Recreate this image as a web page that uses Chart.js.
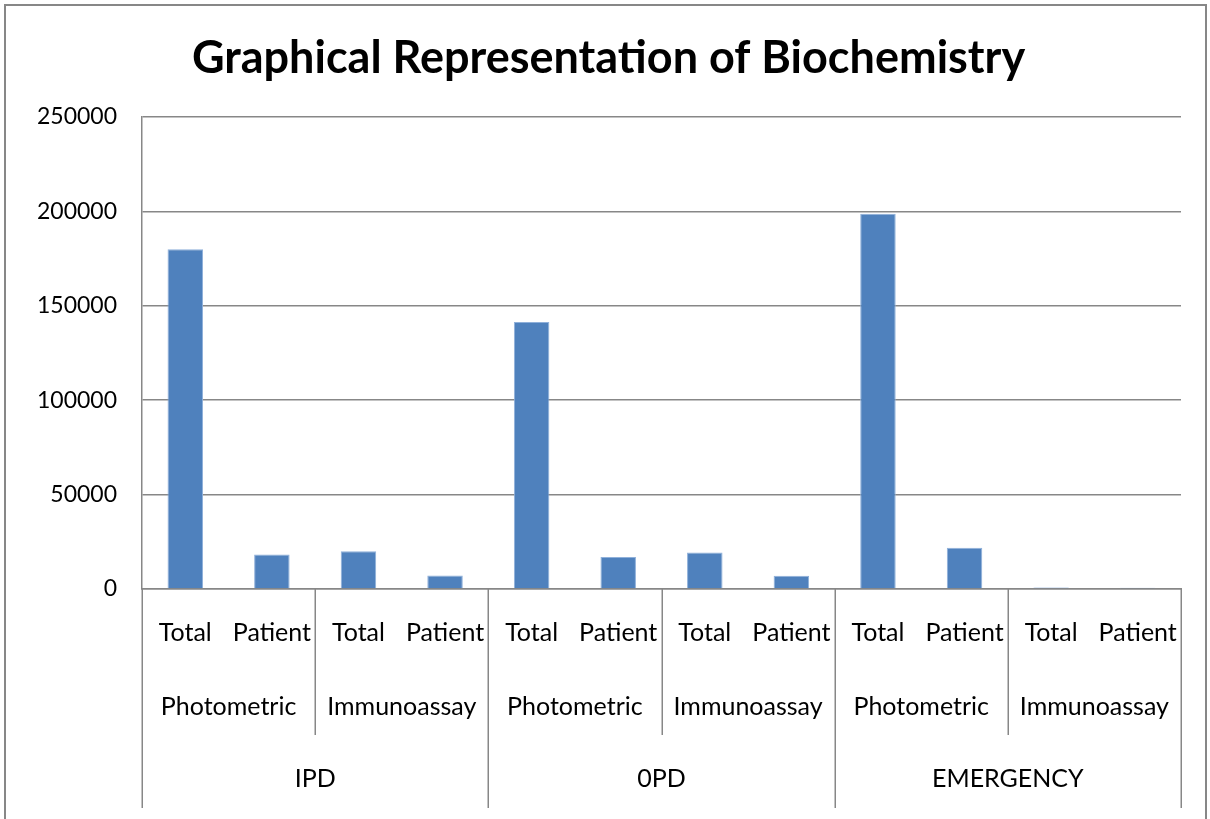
<!DOCTYPE html>
<html>
<head>
<meta charset="utf-8">
<script src="https://cdn.jsdelivr.net/npm/chart.js@4.4.1/dist/chart.umd.min.js"></script>
<style>
  html, body { margin: 0; padding: 0; background: #ffffff; overflow: hidden; }
  #wrap { position: absolute; left: 0; top: 0; width: 1210px; height: 819px; }
  #frame { position: absolute; left: 4px; top: 4px; width: 1199px; height: 900px; border: 2px solid #878787; pointer-events: none; }
</style>
</head>
<body>
<div id="wrap"><canvas id="c" width="1210" height="819"></canvas></div>
<div id="frame"></div>
<script>
// ---- data ----
const departments = ['IPD', '0PD', 'EMERGENCY'];
const methods = ['Photometric', 'Immunoassay'];
const measures = ['Total', 'Patient'];
const ipdValues = [180000, 18300, 20000, 7100];
const opdValues = [141400, 17000, 19300, 7000];
const emergencyValues = [198800, 21800, 800, 700];
const yTicks = [0, 50000, 100000, 150000, 200000, 250000];

// build flat category list & values
const categories = [];
departments.forEach(() => methods.forEach(() => measures.forEach(ms => categories.push(ms))));
const values = [].concat(ipdValues, opdValues, emergencyValues);

const FONT = 'Lato, "Open Sans", sans-serif';
const GRID = '#878787';

const hierLabels = {
  id: 'hierLabels',
  afterDraw(chart) {
    const x = chart.scales.x;
    const ctx = chart.ctx;
    const base = x.top;
    const n = categories.length;
    const w = x.getPixelForValue(1) - x.getPixelForValue(0);
    const edge = i => x.getPixelForValue(i) - w / 2;
    ctx.save();
    ctx.fillStyle = '#000';
    ctx.textAlign = 'center';
    ctx.textBaseline = 'middle';
    ctx.font = '25px ' + FONT;
    // level 1
    for (let i = 0; i < n; i++) {
      ctx.fillText(categories[i], x.getPixelForValue(i), base + 44);
    }
    // level 2
    const per2 = measures.length;
    let k = 0;
    departments.forEach(() => methods.forEach(m => {
      const c = (edge(k * per2) + edge((k + 1) * per2)) / 2;
      ctx.fillText(m, c, base + 118);
      k++;
    }));
    // level 3
    const per3 = measures.length * methods.length;
    departments.forEach((d, j) => {
      const c = (edge(j * per3) + edge((j + 1) * per3)) / 2;
      ctx.fillText(d, c, base + 190);
    });
    // separators
    ctx.strokeStyle = GRID;
    ctx.lineWidth = 1.5;
    for (let i = 0; i <= n; i += per2) {
      const px = Math.round(edge(i)) + 0.25;
      const len = (i % per3 === 0) ? 219 : 146;
      ctx.beginPath();
      ctx.moveTo(px, base);
      ctx.lineTo(px, base + len);
      ctx.stroke();
    }
    ctx.restore();
  }
};

new Chart(document.getElementById('c'), {
  type: 'bar',
  data: {
    labels: categories,
    datasets: [{
      data: values,
      backgroundColor: '#4F81BD',
      borderColor: '#8FB0DA',
      borderWidth: 1,
      barPercentage: 0.41,
      categoryPercentage: 1.0
    }]
  },
  options: {
    responsive: false,
    animation: false,
    layout: { padding: { left: 36, right: 29, top: 0, bottom: 0 } },
    plugins: {
      legend: { display: false },
      tooltip: { enabled: false },
      title: {
        display: true,
        text: 'Graphical Representation of Biochemistry',
        color: '#000',
        font: { family: FONT, size: 45, weight: 'bold', lineHeight: 1.2 },
        padding: { top: 31, bottom: 32 }
      }
    },
    scales: {
      x: {
        type: 'category',
        grid: { display: false },
        border: { display: true, color: GRID, width: 1.5 },
        ticks: { display: false },
        afterFit(s) { s.height = 230; }
      },
      y: {
        min: 0,
        max: 250000,
        afterBuildTicks(s) { s.ticks = yTicks.map(v => ({ value: v })); },
        grid: { color: GRID, lineWidth: 1.5, drawTicks: false },
        border: { display: true, color: GRID, width: 1.5 },
        ticks: {
          color: '#000',
          font: { family: FONT, size: 23 },
          padding: 25,
          callback: v => String(v)
        },
        afterFit(s) { s.width = 106; }
      }
    }
  },
  plugins: [hierLabels]
});
</script>
</body>
</html>
